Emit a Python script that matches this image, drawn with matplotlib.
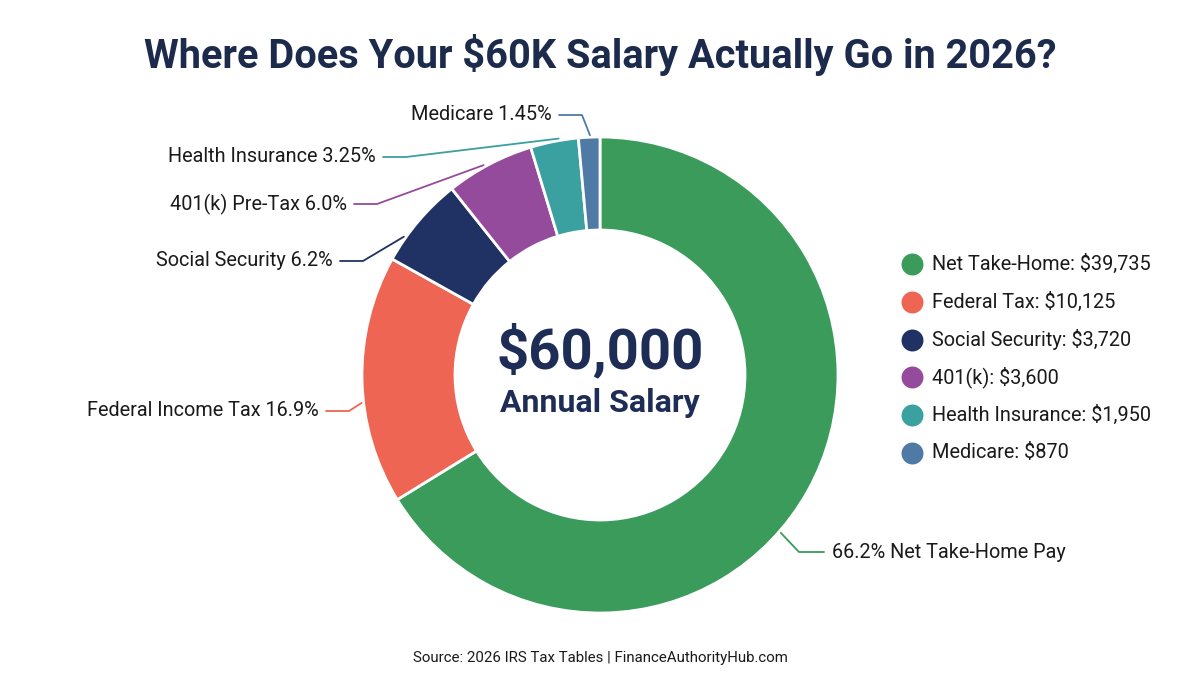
import numpy as np
import matplotlib
matplotlib.use("Agg")
import matplotlib.pyplot as plt

# ── Data ─────────────────────────────────────────────────────────────── #
categories = ["Net Take-Home", "Federal Tax", "Social Security",
              "401(k)", "Health Insurance", "Medicare"]
amounts = [39735, 10125, 3720, 3600, 1950, 870]
slice_labels = ["66.2% Net Take-Home Pay", "Federal Income Tax 16.9%",
                "Social Security 6.2%", "401(k) Pre-Tax 6.0%",
                "Health Insurance 3.25%", "Medicare 1.45%"]
colors = ["#3a9b5a", "#ee6553", "#1f3263", "#954b9c", "#3aa0a0", "#4f7aa6"]

# label text anchor (pixel coords, y measured from top)
label_pos = [(832, 552), (319, 411), (333, 261), (347, 204), (376, 157), (552, 115)]
anchor_frac = [0.55, 0.41, 0.27, 0.44, 0.6, 0.54]   # where along the wedge the leader hits

W, H = 1200, 675
CX, CY = 600, 375          # donut centre (pixels from top)
R_OUT, R_IN = 238, 145

plt.rcParams["font.family"] = ["Roboto", "DejaVu Sans"]

fig = plt.figure(figsize=(12, 6.75), dpi=100)
ax = fig.add_axes([0, 0, 1, 1])

wedges, _ = ax.pie(amounts, colors=colors, startangle=90, counterclock=False,
                   center=(CX, H - CY), radius=R_OUT,
                   wedgeprops=dict(width=R_OUT - R_IN, edgecolor="white", linewidth=2))
ax.set_xlim(0, W)
ax.set_ylim(0, H)
ax.set_aspect("auto")
ax.axis("off")

# ── Leader lines + slice labels ─────────────────────────────────────── #
for w, lab, (tx, ty), f, col in zip(wedges, slice_labels, label_pos, anchor_frac, colors):
    ang = np.deg2rad(w.theta2 - f * (w.theta2 - w.theta1))
    ax_x = CX + (R_OUT + 2) * np.cos(ang)
    ax_y = (H - CY) + (R_OUT + 2) * np.sin(ang)
    if tx > CX + 100:
        x0, x1 = tx - 8, tx - 33
        ha = "left"
    else:
        x0, x1 = tx + 7, tx + 30
        ha = "right"
    ax.plot([x0, x1, ax_x], [H - ty, H - ty, ax_y], color=col, lw=1.3,
            solid_capstyle="round")
    ax.text(tx, H - ty, lab, ha=ha, va="center", fontsize=14.3, color="#1a1a1a")

# ── Centre text ─────────────────────────────────────────────────────── #
ax.text(CX, H - 352, f"${sum(amounts):,}", ha="center", va="center",
        fontsize=40.5, fontweight="bold", color="#1e2d55")
ax.text(CX, H - 403, "Annual Salary", ha="center", va="center",
        fontsize=23, fontweight="bold", color="#1e2d55")

# ── Legend (manual) ─────────────────────────────────────────────────── #
for i, (cat, amt, col) in enumerate(zip(categories, amounts, colors)):
    y = H - (264 + i * 37.8)
    ax.scatter([912], [y], s=250, color=col, zorder=3, linewidths=0)
    ax.text(932, y, f"{cat}: ${amt:,}", ha="left", va="center",
            fontsize=14.3, color="#1a1a1a")

# ── Title / source ──────────────────────────────────────────────────── #
ax.text(W / 2, H - 55, "Where Does Your $60K Salary Actually Go in 2026?",
        ha="center", va="center", fontsize=28.6, fontweight="bold", color="#1c2b4b")
ax.text(W / 2, H - 658, "Source: 2026 IRS Tax Tables | FinanceAuthorityHub.com",
        ha="center", va="center", fontsize=10.8, color="#1a1a1a")

fig.savefig("out.png", dpi=100, facecolor="white")
